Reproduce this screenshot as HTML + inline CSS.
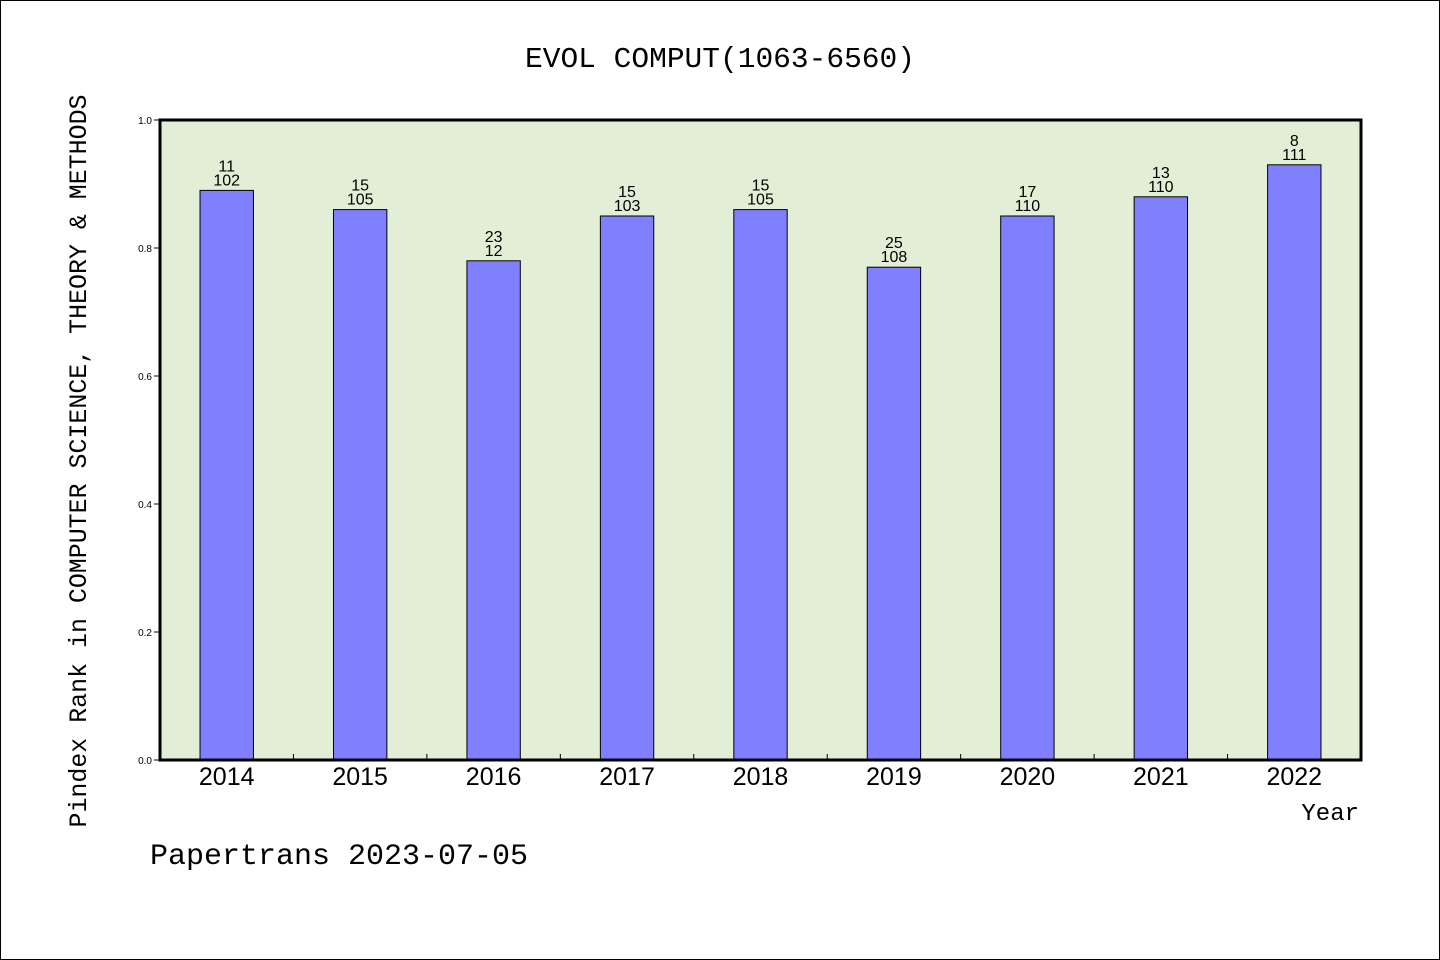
<!DOCTYPE html>
<html><head><meta charset="utf-8"><style>
body{margin:0;background:#fff}
svg{display:block;font-family:"Liberation Mono","DejaVu Sans Mono",monospace}
</style></head><body>
<svg id="chart" width="1440" height="960" viewBox="0 0 1440 960">
<rect x="0.5" y="0.5" width="1439" height="959" fill="#fff" stroke="#000"/>
<text x="720" y="67" text-anchor="middle" font-size="29" textLength="390" lengthAdjust="spacingAndGlyphs">EVOL COMPUT(1063-6560)</text>
<rect x="160" y="120" width="1201" height="640" fill="#e2efd6"/>
<g id="bars"></g>
<g id="axes"></g>
<rect x="160" y="120" width="1201" height="640" fill="none" stroke="#000" stroke-width="3"/>
<text transform="translate(86,461) rotate(-90)" text-anchor="middle" font-size="25" textLength="733" lengthAdjust="spacingAndGlyphs">Pindex Rank in COMPUTER SCIENCE, THEORY &amp; METHODS</text>
<text x="1359" y="820" text-anchor="end" font-size="24">Year</text>
<text x="150" y="864" font-size="30">Papertrans 2023-07-05</text>
</svg>
<script>
const categories=["2014","2015","2016","2017","2018","2019","2020","2021","2022"];
const values=[0.89,0.86,0.78,0.85,0.86,0.77,0.85,0.88,0.93];
const ranks=["11","15","23","15","15","25","17","13","8"];
const totals=["102","105","12","103","105","108","110","110","111"];
const yTicks=[0,0.2,0.4,0.6,0.8,1.0];
const yTickLabels=["0.0","0.2","0.4","0.6","0.8","1.0"];
const NS="http://www.w3.org/2000/svg";
const X0=160,X1=1361,Y0=760,Y1=120;
const bw=(X1-X0)/categories.length;
const xc=i=>X0+bw*(i+0.5);
const y=v=>Y0-(v)*(Y0-Y1);
function mk(t,a,p){const e=document.createElementNS(NS,t);for(const k in a)e.setAttribute(k,a[k]);p.appendChild(e);return e;}
const gb=document.getElementById('bars'),ga=document.getElementById('axes');
categories.forEach((c,i)=>{
  const w=bw*0.4;
  const r=mk('rect',{x:xc(i)-w/2,y:y(values[i]),width:w,height:Y0-y(values[i]),fill:'#8080ff',stroke:'#000','stroke-width':1},gb);
  
  
  const t1=mk('text',{x:xc(i),y:y(values[i])-19,'text-anchor':'middle','font-size':16,'font-family':'Liberation Sans, sans-serif'},gb);
  t1.textContent=ranks[i];
  
  
  const t2=mk('text',{x:xc(i),y:y(values[i])-5,'text-anchor':'middle','font-size':16,'font-family':'Liberation Sans, sans-serif'},gb);
  t2.textContent=totals[i];
  
  
  const xl=mk('text',{x:xc(i),y:785,'text-anchor':'middle','font-size':25,'font-family':'Liberation Sans, sans-serif'},ga);
  xl.textContent=c;
  
  
  if(i>0){
    const tk=mk('line',{x1:X0+bw*i,x2:X0+bw*i,y1:Y0,y2:Y0-6,stroke:'#000'},ga);
    
    
  }
});
yTicks.forEach((v,i)=>{
  const tk=mk('line',{x1:X0-6,x2:X0,y1:y(v),y2:y(v),stroke:'#000'},ga);
  
  
  const tl=mk('text',{x:X0-8,y:y(v)+4,'text-anchor':'end','font-size':10,'font-family':'Liberation Sans, sans-serif'},ga);
  tl.textContent=yTickLabels[i];
  
  
});
</script>
</body></html>
